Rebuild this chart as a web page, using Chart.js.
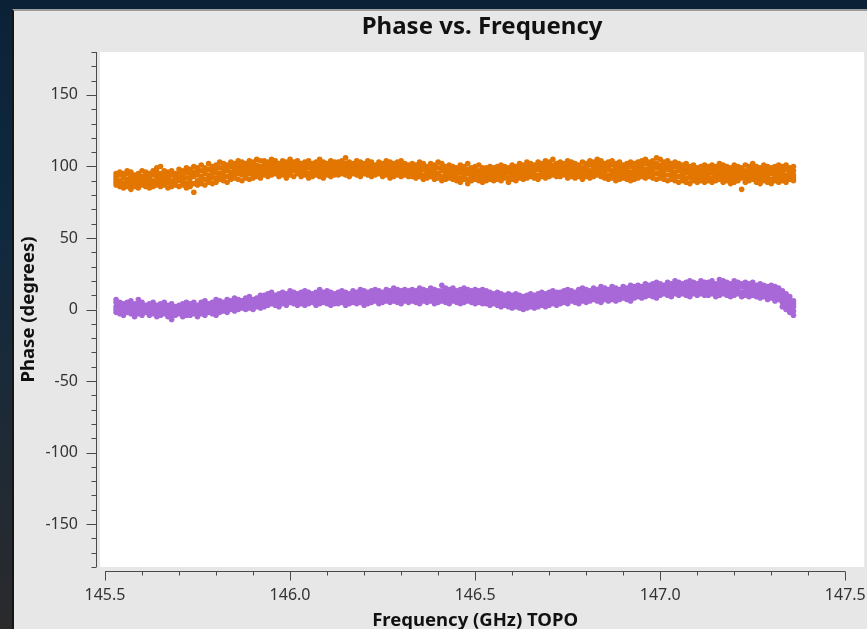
<!DOCTYPE html>
<html>
<head>
<meta charset="utf-8">
<title>Phase vs. Frequency</title>
<script src="https://cdn.jsdelivr.net/npm/chart.js@4.4.1/dist/chart.umd.min.js"></script>
<style>
    html, body { margin: 0; padding: 0; width: 867px; height: 629px; overflow: hidden; }
    body { position: relative; background: linear-gradient(180deg, #0b2236 0%, #10293f 35%, #2a2a2c 100%); }
    #panel { position: absolute; left: 12px; top: 9px; right: 0; bottom: 0; background: #e7e7e7;
             border-left: 2px solid #151515; border-top: 2px solid #9c9c9c; }
    #chart { position: absolute; left: 0; top: 0; }
</style>
</head>
<body>
<div id="panel"></div>
<canvas id="chart" width="867" height="629"></canvas>
<script>
// Text
const TITLE = 'Phase vs. Frequency';
const X_TITLE = 'Frequency (GHz) TOPO';
const Y_TITLE = 'Phase (degrees)';

// Colours
const ORANGE = '#e27600';
const PURPLE = '#a868d8';
const AXIS_COLOR = '#4a4a4a';
const LABEL_COLOR = '#333333';
const FONT = '"Noto Sans", "DejaVu Sans", sans-serif';

// Ticks
const xMajor = [145.5, 146.0, 146.5, 147.0, 147.5];
const xMinor = [145.5, 145.6, 145.7, 145.8, 145.9, 146.0, 146.1, 146.2, 146.3, 146.4, 146.5,
    146.6, 146.7, 146.8, 146.9, 147.0, 147.1, 147.2, 147.3, 147.4, 147.5];
const yMajor = [-150, -100, -50, 0, 50, 100, 150];
const yMinor = [-180, -170, -160, -150, -140, -130, -120, -110, -100, -90, -80, -70, -60, -50, -40,
    -30, -20, -10, 0, 10, 20, 30, 40, 50, 60, 70, 80, 90, 100, 110, 120, 130, 140, 150, 160, 170, 180];

// Channel frequencies (GHz)
const freqs = [
    145.53, 145.54, 145.55, 145.56, 145.57, 145.58, 145.59, 145.60, 145.61, 145.62,
    145.63, 145.64, 145.65, 145.66, 145.67, 145.68, 145.69, 145.70, 145.71, 145.72,
    145.73, 145.74, 145.75, 145.76, 145.77, 145.78, 145.79, 145.80, 145.81, 145.82,
    145.83, 145.84, 145.85, 145.86, 145.87, 145.88, 145.89, 145.90, 145.91, 145.92,
    145.93, 145.94, 145.95, 145.96, 145.97, 145.98, 145.99, 146.00, 146.01, 146.02,
    146.03, 146.04, 146.05, 146.06, 146.07, 146.08, 146.09, 146.10, 146.11, 146.12,
    146.13, 146.14, 146.15, 146.16, 146.17, 146.18, 146.19, 146.20, 146.21, 146.22,
    146.23, 146.24, 146.25, 146.26, 146.27, 146.28, 146.29, 146.30, 146.31, 146.32,
    146.33, 146.34, 146.35, 146.36, 146.37, 146.38, 146.39, 146.40, 146.41, 146.42,
    146.43, 146.44, 146.45, 146.46, 146.47, 146.48, 146.49, 146.50, 146.51, 146.52,
    146.53, 146.54, 146.55, 146.56, 146.57, 146.58, 146.59, 146.60, 146.61, 146.62,
    146.63, 146.64, 146.65, 146.66, 146.67, 146.68, 146.69, 146.70, 146.71, 146.72,
    146.73, 146.74, 146.75, 146.76, 146.77, 146.78, 146.79, 146.80, 146.81, 146.82,
    146.83, 146.84, 146.85, 146.86, 146.87, 146.88, 146.89, 146.90, 146.91, 146.92,
    146.93, 146.94, 146.95, 146.96, 146.97, 146.98, 146.99, 147.00, 147.01, 147.02,
    147.03, 147.04, 147.05, 147.06, 147.07, 147.08, 147.09, 147.10, 147.11, 147.12,
    147.13, 147.14, 147.15, 147.16, 147.17, 147.18, 147.19, 147.20, 147.21, 147.22,
    147.23, 147.24, 147.25, 147.26, 147.27, 147.28, 147.29, 147.30, 147.31, 147.32,
    147.33, 147.34, 147.35, 147.36
];

// Orange correlation, read across the scatter band from top to bottom (degrees)
const orangeHi = [
    95, 96, 95, 97, 96, 94, 95, 97, 96, 95, 97, 99, 100, 97, 96, 97, 95, 98, 97, 99,
    98, 100, 99, 101, 99, 102, 100, 101, 103, 102, 101, 103, 102, 104, 103, 102, 104, 103, 105, 104,
    104, 103, 105, 104, 102, 104, 103, 105, 103, 104, 102, 103, 104, 102, 103, 105, 103, 102, 104, 103,
    103, 104, 106, 103, 102, 104, 103, 102, 104, 103, 101, 103, 102, 104, 103, 102, 103, 104, 102, 101,
    102, 101, 103, 102, 100, 102, 101, 103, 102, 100, 101, 100, 99, 101, 100, 102, 99, 100, 101, 99,
    99, 100, 99, 100, 101, 100, 99, 101, 100, 102, 101, 103, 102, 101, 103, 102, 104, 103, 105, 102,
    103, 102, 104, 103, 102, 101, 103, 102, 104, 103, 105, 104, 102, 103, 104, 102, 103, 101, 102, 103,
    102, 103, 104, 105, 103, 104, 106, 105, 103, 104, 102, 103, 102, 101, 102, 100, 101, 99, 100, 101,
    100, 101, 100, 102, 101, 100, 99, 101, 100, 99, 101, 100, 102, 100, 99, 101, 100, 99, 100, 101,
    100, 101, 99, 100
];
const orangeUp = [
    93, 94, 93, 95, 93, 93, 94, 93, 94, 92, 94, 96, 95, 94, 93, 94, 93, 95, 94, 96,
    95, 96, 97, 97, 97, 98, 97, 99, 99, 99, 99, 100, 99, 101, 100, 99, 101, 100, 101, 100,
    101, 101, 102, 102, 100, 101, 101, 102, 101, 101, 100, 101, 102, 100, 100, 102, 101, 100, 101, 101,
    101, 101, 102, 100, 101, 101, 100, 101, 101, 101, 99, 100, 100, 101, 100, 100, 100, 101, 99, 99,
    99, 99, 100, 100, 98, 99, 99, 99, 99, 98, 98, 98, 97, 98, 97, 98, 97, 98, 97, 97,
    97, 97, 97, 98, 98, 97, 97, 98, 98, 99, 99, 100, 99, 99, 100, 100, 101, 100, 101, 100,
    100, 100, 101, 100, 100, 99, 99, 100, 101, 100, 102, 101, 100, 100, 101, 99, 100, 99, 99, 100,
    100, 100, 101, 102, 101, 101, 102, 101, 100, 101, 99, 100, 99, 98, 99, 97, 98, 97, 97, 98,
    97, 98, 98, 99, 98, 98, 97, 98, 98, 97, 97, 98, 99, 97, 97, 98, 97, 97, 97, 98,
    97, 98, 97, 97
];
const orangeMid = [
    91, 90, 92, 91, 90, 92, 91, 90, 92, 91, 90, 93, 92, 91, 92, 90, 92, 93, 91, 92,
    92, 93, 94, 93, 95, 94, 95, 96, 95, 96, 97, 96, 97, 98, 97, 96, 98, 97, 98, 97,
    99, 98, 99, 100, 98, 99, 98, 99, 100, 98, 99, 98, 99, 98, 97, 99, 98, 99, 98, 99,
    99, 98, 99, 98, 99, 98, 97, 99, 98, 99, 98, 97, 98, 99, 97, 98, 97, 98, 97, 98,
    97, 96, 97, 98, 96, 97, 96, 95, 97, 96, 95, 96, 95, 96, 94, 95, 96, 95, 94, 95,
    95, 94, 95, 96, 95, 94, 96, 95, 96, 97, 96, 97, 96, 97, 98, 97, 98, 97, 98, 97,
    98, 97, 98, 97, 98, 97, 96, 98, 97, 98, 99, 98, 97, 98, 97, 96, 97, 96, 97, 96,
    97, 98, 99, 98, 99, 98, 99, 98, 97, 98, 97, 96, 97, 95, 96, 95, 96, 95, 94, 95,
    95, 96, 95, 96, 95, 96, 94, 95, 96, 95, 94, 95, 96, 95, 94, 95, 94, 95, 94, 95,
    95, 94, 95, 94
];
const orangeDown = [
    89, 88, 88, 89, 87, 89, 88, 88, 89, 88, 88, 90, 89, 88, 89, 88, 89, 90, 89, 88,
    89, 88, 90, 91, 91, 91, 92, 92, 93, 93, 93, 94, 94, 95, 94, 94, 95, 95, 95, 95,
    96, 96, 97, 97, 95, 96, 95, 96, 97, 96, 96, 96, 95, 96, 95, 96, 95, 96, 96, 96,
    96, 96, 97, 95, 97, 96, 95, 97, 96, 96, 96, 96, 95, 96, 95, 95, 95, 96, 95, 95,
    95, 94, 95, 94, 94, 95, 93, 94, 93, 93, 93, 93, 92, 92, 92, 91, 93, 93, 92, 92,
    92, 92, 93, 93, 92, 93, 92, 93, 93, 94, 93, 94, 94, 94, 94, 95, 95, 95, 96, 95,
    95, 95, 95, 95, 95, 95, 94, 95, 95, 95, 96, 96, 95, 94, 95, 93, 94, 94, 94, 93,
    94, 95, 96, 95, 96, 95, 95, 95, 94, 94, 94, 93, 93, 93, 92, 92, 93, 92, 92, 92,
    92, 92, 93, 93, 92, 93, 91, 92, 93, 92, 92, 92, 93, 92, 91, 92, 92, 91, 92, 92,
    92, 92, 93, 92
];
const orangeLo = [
    87, 86, 85, 86, 84, 86, 85, 87, 86, 85, 86, 87, 86, 87, 85, 86, 87, 86, 87, 85,
    86, 82, 87, 88, 87, 89, 88, 89, 91, 90, 89, 91, 92, 91, 90, 92, 91, 92, 93, 92,
    94, 93, 94, 95, 93, 94, 92, 94, 93, 95, 93, 94, 92, 93, 94, 93, 92, 94, 93, 94,
    94, 95, 94, 93, 95, 94, 93, 95, 94, 93, 94, 95, 93, 94, 92, 93, 94, 93, 94, 93,
    93, 92, 93, 91, 92, 93, 91, 92, 90, 91, 92, 91, 90, 89, 91, 88, 90, 91, 90, 89,
    90, 91, 90, 91, 90, 92, 89, 91, 90, 92, 91, 92, 93, 92, 91, 93, 92, 93, 94, 93,
    93, 94, 92, 93, 92, 93, 91, 93, 92, 93, 94, 93, 92, 91, 92, 90, 91, 92, 91, 90,
    91, 92, 93, 92, 93, 92, 91, 92, 91, 90, 91, 90, 89, 90, 89, 88, 90, 89, 90, 89,
    90, 89, 90, 91, 89, 90, 88, 89, 90, 84, 89, 90, 91, 89, 88, 90, 89, 88, 90, 89,
    90, 89, 91, 90
];

// Purple correlation, read across the scatter band from top to bottom (degrees)
const purpleHi = [
    7, 5, 4, 5, 6, 4, 7, 5, 3, 4, 5, 3, 4, 5, 3, 4, 2, 3, 4, 5,
    4, 5, 3, 5, 6, 4, 5, 7, 6, 5, 7, 6, 8, 7, 6, 8, 9, 7, 8, 10,
    10, 11, 12, 10, 11, 12, 11, 13, 12, 11, 12, 13, 12, 11, 12, 14, 12, 13, 12, 11,
    12, 13, 12, 11, 13, 12, 14, 13, 12, 13, 14, 13, 12, 14, 13, 15, 14, 13, 14, 13,
    14, 13, 15, 14, 13, 15, 14, 13, 17, 15, 14, 15, 13, 14, 15, 14, 13, 14, 13, 14,
    13, 12, 11, 12, 11, 10, 11, 10, 11, 10, 9, 10, 11, 10, 11, 12, 11, 12, 13, 12,
    12, 13, 14, 13, 12, 14, 15, 14, 13, 15, 14, 16, 15, 14, 16, 15, 14, 16, 15, 17,
    16, 17, 16, 18, 17, 18, 19, 18, 17, 19, 18, 20, 19, 18, 19, 20, 19, 18, 20, 19,
    19, 20, 18, 21, 20, 19, 18, 20, 19, 18, 19, 18, 19, 17, 18, 17, 16, 17, 16, 15,
    13, 11, 9, 6
];
const purpleUp = [
    5, 3, 2, 3, 4, 2, 4, 3, 1, 2, 3, 2, 1, 3, 2, 1, 1, 1, 3, 2,
    2, 3, 2, 3, 4, 3, 3, 4, 5, 4, 5, 5, 6, 5, 6, 6, 7, 6, 7, 8,
    8, 9, 10, 8, 9, 10, 9, 10, 11, 9, 10, 10, 10, 9, 10, 11, 10, 11, 10, 9,
    10, 11, 10, 9, 11, 10, 11, 11, 10, 11, 12, 11, 10, 12, 11, 12, 11, 12, 11, 12,
    12, 11, 12, 12, 11, 12, 12, 12, 13, 12, 12, 13, 11, 12, 12, 12, 11, 12, 11, 12,
    10, 10, 10, 9, 10, 9, 9, 8, 9, 8, 8, 8, 8, 9, 9, 9, 10, 10, 10, 10,
    10, 11, 12, 11, 10, 12, 12, 12, 12, 13, 12, 13, 13, 13, 14, 12, 13, 14, 13, 14,
    14, 15, 14, 16, 15, 16, 16, 17, 16, 16, 17, 17, 17, 16, 17, 17, 17, 17, 18, 17,
    17, 18, 17, 18, 17, 17, 17, 17, 17, 17, 16, 17, 16, 15, 16, 15, 14, 14, 14, 13,
    10, 9, 6, 4
];
const purpleMid = [
    2, 1, 0, 2, 1, 0, 1, 2, 0, -1, 0, 1, -1, 0, 1, -1, 0, -1, 1, 0,
    0, 1, 0, 1, 2, 1, 2, 1, 3, 2, 3, 4, 3, 4, 5, 4, 5, 4, 5, 6,
    6, 7, 8, 7, 6, 8, 7, 8, 9, 8, 7, 8, 9, 8, 7, 8, 9, 8, 7, 8,
    8, 9, 8, 7, 9, 8, 9, 8, 9, 10, 9, 8, 9, 10, 9, 10, 9, 10, 9, 10,
    10, 9, 10, 11, 10, 9, 10, 11, 10, 9, 10, 11, 10, 9, 10, 9, 10, 9, 10, 9,
    8, 9, 8, 7, 8, 7, 6, 7, 6, 5, 6, 5, 6, 7, 6, 7, 8, 7, 8, 9,
    8, 9, 10, 9, 8, 10, 9, 10, 11, 10, 11, 10, 11, 12, 11, 10, 12, 11, 12, 11,
    12, 13, 12, 13, 14, 13, 14, 15, 14, 13, 15, 14, 15, 14, 16, 15, 14, 15, 16, 15,
    15, 16, 15, 16, 15, 16, 15, 14, 15, 16, 14, 15, 14, 13, 14, 13, 12, 11, 12, 11,
    8, 6, 3, 2
];
const purpleDown = [
    0, -1, -2, 0, -1, -2, -1, -1, -1, -2, -2, -2, -3, -2, -2, -4, -2, -2, -2, -2,
    -2, -1, -2, -1, -1, -1, 0, -1, 1, 0, 1, 2, 1, 2, 3, 2, 3, 2, 3, 4,
    4, 5, 6, 5, 4, 6, 5, 6, 6, 5, 6, 5, 6, 6, 5, 6, 7, 6, 5, 6,
    6, 7, 6, 6, 7, 6, 7, 6, 7, 7, 7, 6, 7, 8, 7, 8, 7, 7, 7, 7,
    8, 7, 7, 8, 7, 8, 7, 8, 8, 7, 7, 8, 7, 7, 8, 7, 8, 7, 7, 7,
    6, 6, 6, 5, 5, 5, 4, 4, 4, 3, 3, 3, 4, 4, 4, 5, 5, 5, 6, 6,
    6, 7, 7, 7, 6, 7, 7, 8, 8, 8, 8, 8, 9, 9, 9, 8, 9, 9, 9, 9,
    10, 11, 10, 11, 12, 11, 11, 12, 12, 12, 12, 12, 13, 12, 13, 12, 12, 13, 13, 13,
    12, 13, 12, 13, 13, 13, 12, 12, 13, 12, 12, 12, 12, 11, 11, 11, 10, 10, 9, 9,
    5, 3, 0, -1
];
const purpleLo = [
    -2, -3, -4, -2, -3, -5, -3, -4, -2, -4, -3, -5, -4, -3, -5, -7, -4, -3, -5, -4,
    -4, -3, -5, -3, -4, -2, -3, -4, -2, -1, -2, 0, -1, 0, 1, 0, 1, 0, 2, 1,
    2, 3, 4, 3, 2, 4, 3, 5, 4, 3, 4, 3, 4, 5, 3, 4, 5, 4, 3, 4,
    4, 5, 3, 4, 5, 4, 5, 3, 4, 5, 6, 4, 5, 6, 5, 6, 5, 4, 6, 5,
    6, 5, 4, 6, 5, 6, 4, 5, 6, 5, 4, 6, 5, 4, 5, 6, 5, 4, 5, 4,
    4, 3, 4, 3, 2, 3, 2, 1, 2, 1, 0, 1, 2, 1, 2, 3, 2, 3, 4, 3,
    4, 5, 4, 6, 5, 4, 6, 5, 6, 7, 6, 5, 7, 6, 7, 6, 7, 8, 7, 6,
    8, 9, 8, 9, 10, 9, 8, 10, 11, 10, 9, 11, 10, 11, 10, 9, 11, 10, 11, 10,
    10, 11, 9, 10, 11, 10, 9, 10, 11, 9, 10, 9, 10, 9, 8, 9, 7, 8, 6, 7,
    2, 0, -2, -4
];

function bandPoints(...parts) {
    const pts = [];
    parts.forEach(values => {
        values.forEach((v, i) => pts.push({ x: freqs[i], y: v }));
    });
    return pts;
}

// White plot area, axis backbones with major/minor ticks, x axis title
const plotFrame = {
    id: 'plotFrame',
    beforeDraw(chart) {
        const { ctx, chartArea: a } = chart;
        ctx.save();
        ctx.fillStyle = '#ffffff';
        ctx.fillRect(a.left, a.top, a.right - a.left, a.bottom - a.top);
        ctx.restore();
    },
    afterDraw(chart) {
        const { ctx, chartArea: a } = chart;
        const x = chart.scales.x;
        const y = chart.scales.y;
        const ax = a.left - 3.5;
        const ay = a.bottom + 4.5;
        ctx.save();
        ctx.strokeStyle = AXIS_COLOR;
        ctx.lineWidth = 1;
        ctx.beginPath();
        ctx.moveTo(ax, y.getPixelForValue(yMinor[0]));
        ctx.lineTo(ax, y.getPixelForValue(yMinor[yMinor.length - 1]));
        yMinor.forEach(v => {
            const p = Math.round(y.getPixelForValue(v)) + 0.5;
            const len = yMajor.includes(v) ? 10 : 5;
            ctx.moveTo(ax, p);
            ctx.lineTo(ax - len, p);
        });
        const x0 = x.getPixelForValue(xMinor[0]);
        const x1 = x.getPixelForValue(xMinor[xMinor.length - 1]);
        ctx.moveTo(x0, ay);
        ctx.lineTo(x1, ay);
        xMinor.forEach(v => {
            const p = Math.round(x.getPixelForValue(v)) + 0.5;
            const len = xMajor.includes(v) ? 9 : 4;
            ctx.moveTo(p, ay);
            ctx.lineTo(p, ay + len);
        });
        ctx.stroke();

        ctx.fillStyle = '#111111';
        ctx.font = 'bold 18.5px ' + FONT;
        ctx.textAlign = 'center';
        ctx.textBaseline = 'alphabetic';
        ctx.fillText(X_TITLE, (x0 + x1) / 2, chart.height - 3);
        ctx.restore();
    }
};

const ctx = document.getElementById('chart').getContext('2d');
new Chart(ctx, {
    type: 'scatter',
    data: {
        datasets: [
            {
                label: 'Corr 1',
                data: bandPoints(orangeHi, orangeUp, orangeMid, orangeDown, orangeLo),
                backgroundColor: ORANGE,
                borderWidth: 0,
                pointRadius: 2.8,
                pointHoverRadius: 2.8
            },
            {
                label: 'Corr 2',
                data: bandPoints(purpleHi, purpleUp, purpleMid, purpleDown, purpleLo),
                backgroundColor: PURPLE,
                borderWidth: 0,
                pointRadius: 2.8,
                pointHoverRadius: 2.8
            }
        ]
    },
    options: {
        responsive: false,
        devicePixelRatio: 1,
        animation: false,
        events: [],
        layout: { padding: 0 },
        plugins: {
            legend: { display: false },
            tooltip: { enabled: false },
            title: {
                display: true,
                text: TITLE,
                fullSize: false,
                color: '#111111',
                font: { family: FONT, size: 24, weight: 'bold' },
                padding: { top: 12.8, bottom: 10.4 }
            }
        },
        scales: {
            x: {
                type: 'linear',
                min: 145.4865,
                max: 147.5511,
                afterFit: s => { s.height = 62; s.paddingLeft = 0; s.paddingRight = 0; },
                afterBuildTicks: s => { s.ticks = xMajor.map(v => ({ value: v })); },
                grid: { display: false, drawTicks: false },
                border: { display: false },
                ticks: {
                    padding: 19,
                    maxRotation: 0,
                    autoSkip: false,
                    color: LABEL_COLOR,
                    font: { family: FONT, size: 16 },
                    callback: v => v.toFixed(1)
                }
            },
            y: {
                type: 'linear',
                min: -180,
                max: 180,
                afterFit: s => { s.width = 100; s.paddingTop = 0; s.paddingBottom = 0; },
                afterBuildTicks: s => { s.ticks = yMajor.map(v => ({ value: v })); },
                grid: { display: false, drawTicks: false },
                border: { display: false },
                ticks: {
                    padding: 22,
                    autoSkip: false,
                    color: LABEL_COLOR,
                    font: { family: FONT, size: 16 },
                    callback: v => String(v)
                },
                title: {
                    display: true,
                    text: Y_TITLE,
                    color: '#111111',
                    font: { family: FONT, size: 18.5, weight: 'bold' },
                    padding: { top: 18, bottom: 0 }
                }
            }
        }
    },
    plugins: [plotFrame]
});
</script>
</body>
</html>
